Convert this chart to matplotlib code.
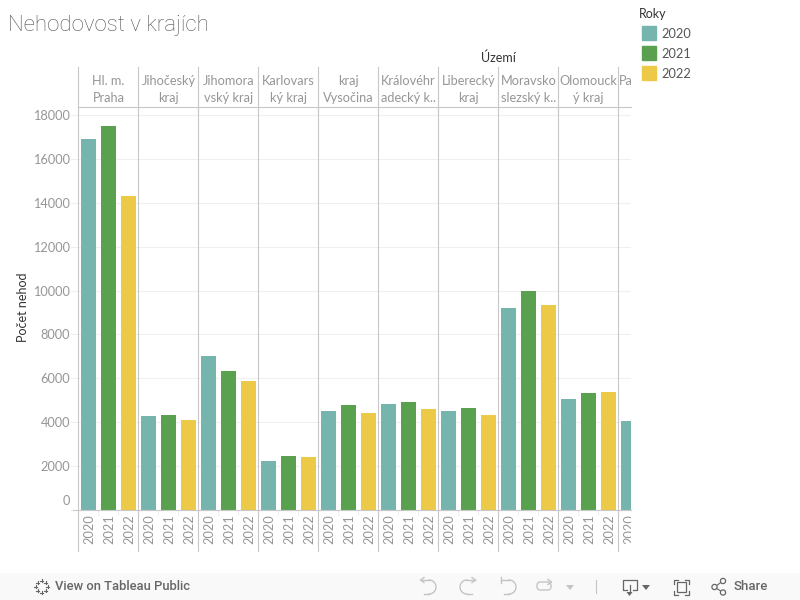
import numpy as np
import matplotlib
matplotlib.use('Agg')
import matplotlib.pyplot as plt
from matplotlib.patches import Rectangle, Circle, FancyBboxPatch
from matplotlib.transforms import ScaledTranslation

plt.rcParams['font.family'] = ['Lato', 'DejaVu Sans']

regions = ['Hl. m.\nPraha', 'Jihočeský\nkraj', 'Jihomora\nvský kraj', 'Karlovars\nký kraj',
           'kraj\nVysočina', 'Královéhr\nadecký k..', 'Liberecký\nkraj', 'Moravsko\nslezský k..',
           'Olomouck\ný kraj', 'Pa']
years = ['2020', '2021', '2022']
v2020 = [16900, 4290, 7020, 2240, 4515, 4835, 4515, 9200, 5060, 4060]
v2021 = [17490, 4335, 6335, 2467, 4790, 4925, 4650, 9980, 5335]
v2022 = [14300, 4105, 5880, 2420, 4425, 4605, 4335, 9340, 5380]
yticks = [0, 2000, 4000, 6000, 8000, 10000, 12000, 14000, 16000, 18000]
colors = ['#76b5ae', '#59a14f', '#edc948']

GRID = '#f0f0f0'
LINE = '#c8c8c8'
TXT = '#969696'
W, H = 800, 600

def px_axes(x0, y0, x1, y1):
    return fig.add_axes([x0/W, 1-y1/H, (x1-x0)/W, (y1-y0)/H])

fig = plt.figure(figsize=(8, 6), dpi=100)

ax = px_axes(78, 107.3, 631, 510.2)
head = px_axes(78, 67, 631, 107.3)
foot = px_axes(78, 510.2, 631, 551)

xmax = 553/20
for a in (ax, head, foot):
    a.set_xlim(0, xmax)
    a.patch.set_alpha(0)
    for s in a.spines.values():
        s.set_visible(False)
    a.set_xticks([])
    a.set_yticks([])
    for g in range(len(regions)):
        a.axvline(g*3, color=LINE, lw=0.8, zorder=3, clip_on=False)
head.set_ylim(0, 1)
foot.set_ylim(1, 0)

ax.set_ylim(0, 402.9/21.97*1000)
ax.set_axisbelow(True)
for i, vals in enumerate([v2020, v2021, v2022]):
    xs = np.arange(len(vals))*3 + i + 0.525
    ax.bar(xs, vals, width=0.75, color=colors[i], zorder=2)

ax.set_yticks(yticks)
ax.set_yticklabels([str(t) for t in yticks], fontsize=9.2, color=TXT)
ax.tick_params(axis='y', length=5.5, width=0.8, color=GRID, pad=0)
lab0 = ax.get_yticklabels()[0]
lab0.set_va('bottom')
lab0.set_transform(lab0.get_transform() + ScaledTranslation(0, 2/72, fig.dpi_scale_trans))
ax.grid(axis='y', color=GRID, lw=0.8)
ax.set_ylabel('Počet nehod', fontsize=9, color='#333333')
ax.yaxis.set_label_coords(-0.0895, 0.504)

# header cells
for g, r in enumerate(regions):
    if r == 'Pa':
        head.text(g*3 + 0.05, 0.66, r, fontsize=9.2, color=TXT, ha='left', va='center', clip_on=True)
    else:
        lab = r.split('\n')
        head.text(g*3 + 1.525, 0.66, lab[0], fontsize=9.2, color=TXT, ha='center', va='center', clip_on=True)
        head.text(g*3 + 1.525, 0.22, lab[1], fontsize=9.2, color=TXT, ha='center', va='center', clip_on=True)

# year labels and the faint ticks between them
for g in range(len(regions)):
    for i, y in enumerate(years):
        x = g*3 + i + 0.56
        foot.text(x, 0.46, y, rotation=90, fontsize=9.2, color=TXT, ha='center', va='center', clip_on=True)
        if i > 0:
            foot.plot([g*3 + i]*2, [0, 0.12], color=GRID, lw=0.8)

# lines closing the panels
fig.add_artist(plt.Line2D([78/W, 631/W], [1-107.3/H]*2, color=LINE, lw=0.8))
fig.add_artist(plt.Line2D([73/W, 631/W], [1-510.2/H]*2, color=LINE, lw=0.8))

fig.text(8/W, 1-26/H, 'Nehodovost v krajích', fontsize=16, color='#555555', ha='left', va='center',
         family='Roboto', fontweight='light')
fig.text(498/W, 1-58/H, 'Území', fontsize=9, color='#333333', ha='center', va='center')

# legend
fig.text(639/W, 1-14/H, 'Roky', fontsize=9, color='#333333', ha='left', va='center')
for i, y in enumerate(years):
    fig.add_artist(Rectangle((642/W, 1-(40+20*i)/H), 14/W, 14/H, color=colors[i], transform=fig.transFigure))
    fig.text(661/W, 1-(33.5+20*i)/H, y, fontsize=9.2, color='#555555', ha='left', va='center')

# toolbar
ui = fig.add_axes([0, 0, 1, 1], zorder=5)
ui.set_xlim(0, W)
ui.set_ylim(H, 0)
ui.axis('off')
ui.patch.set_alpha(0)
ui.add_patch(Rectangle((0, 573), W, 27, color='#f9f9f9', lw=0))
ic = '#666666'
pale = '#c4c4c4'
for dx, dy in [(0, -6), (0, 6), (-6, 0), (6, 0), (-4, -4), (4, 4), (-4, 4), (4, -4)]:
    ui.plot([41.5+dx-1.8, 41.5+dx+1.8], [586.5+dy]*2, color=ic, lw=0.8)
    ui.plot([41.5+dx]*2, [586.5+dy-1.8, 586.5+dy+1.8], color=ic, lw=0.8)
ui.text(55, 586.5, 'View on Tableau Public', fontsize=9.4, color=ic, ha='left', va='center',
        family='Roboto', fontweight='medium')
ui.text(733, 586.5, 'Share', fontsize=9.5, color=ic, ha='left', va='center',
        family='Roboto', fontweight='medium')

# undo / redo / revert / refresh
t = np.linspace(-np.pi/2, np.pi/2, 30)
ui.plot(429+7*np.cos(t), 587+7*np.sin(t), color=pale, lw=1)
ui.plot([421, 429], [580, 580], color=pale, lw=1)
ui.plot([424, 429], [594, 594], color=pale, lw=1)
ui.plot([424, 420.5, 424], [577.5, 580, 582.5], color=pale, lw=1)
ui.plot(467-7*np.cos(t), 587+7*np.sin(t), color=pale, lw=1)
ui.plot([467, 475], [580, 580], color=pale, lw=1)
ui.plot([467, 472], [594, 594], color=pale, lw=1)
ui.plot([472, 475.5, 472], [577.5, 580, 582.5], color=pale, lw=1)
ui.plot(509+7*np.cos(t), 587+7*np.sin(t), color=pale, lw=1)
ui.plot([501, 509], [580, 580], color=pale, lw=1)
ui.plot([504, 509], [594, 594], color=pale, lw=1)
ui.plot([501, 501], [577, 583], color=pale, lw=1)
ui.add_patch(FancyBboxPatch((537, 582), 14, 8, boxstyle='round,pad=0,rounding_size=3.5', fill=False, ec=pale, lw=1))
ui.plot([548, 551.5, 548], [579.5, 582, 584.5], color=pale, lw=1)
ui.fill([566, 574, 570], [585, 585, 590], color=pale, lw=0)
ui.plot([595.5, 595.5], [580, 593], color=pale, lw=0.8)

# download, fullscreen, share
ui.plot([627, 622.5, 622.5, 636.5, 636.5, 633], [590, 590, 579.5, 579.5, 590, 590], color=ic, lw=0.9)
ui.plot([629.5, 629.5], [585, 593], color=ic, lw=0.9)
ui.fill([626.5, 632.5, 629.5], [592, 592, 596], color=ic, lw=0)
ui.fill([642, 650, 646], [585, 585, 590], color=ic, lw=0)
ui.add_patch(Rectangle((676.5, 582), 9.5, 10, fill=False, ec=ic, lw=0.9))
for cx, sx in [(673.5, 1), (689, -1)]:
    for cy, sy in [(579.5, 1), (594.5, -1)]:
        ui.plot([cx+sx*4, cx, cx], [cy, cy, cy+sy*4], color=ic, lw=0.9)
ui.plot([714.5, 723], [587, 581], color=ic, lw=0.8)
ui.plot([714.5, 723], [587, 592.5], color=ic, lw=0.8)
for cx, cy, r in [(714.5, 587, 2.6), (723, 581, 2.6), (723, 592.5, 2.6)]:
    ui.add_patch(Circle((cx, cy), r, fc='#f9f9f9', ec=ic, lw=0.9, zorder=4))

fig.savefig('out.png', dpi=100)
